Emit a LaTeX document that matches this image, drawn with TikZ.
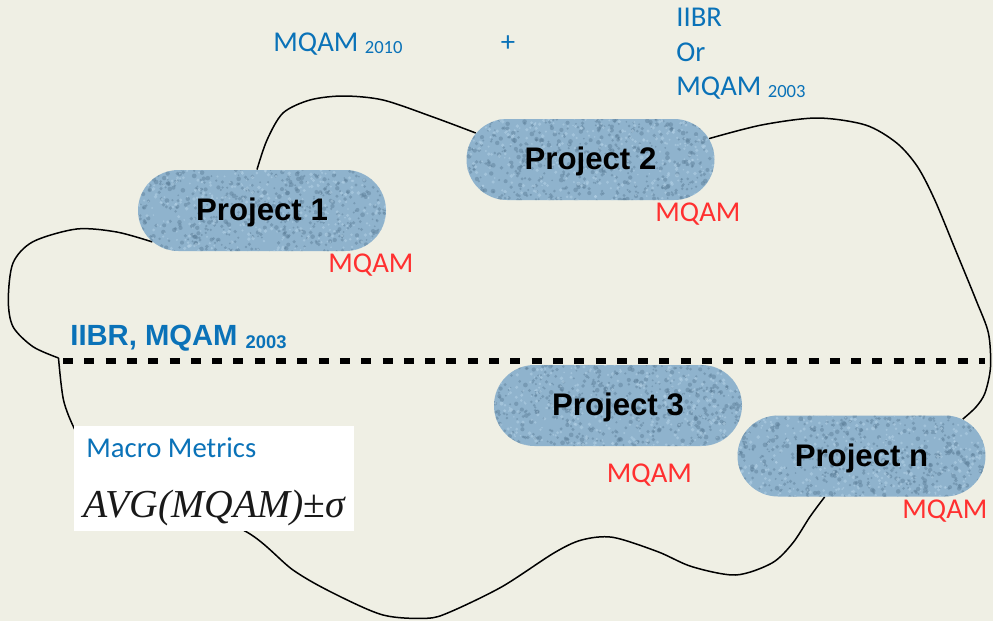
\documentclass[tikz,border=0pt]{standalone}
\usepackage{fontspec}
\setmainfont{Carlito}
\newfontfamily\arialf{Liberation Sans}
\newfontfamily\timesf{Liberation Serif}
\usetikzlibrary{shapes.misc}
\definecolor{bgc}{HTML}{EFEFE4}
\definecolor{mblue}{HTML}{0A72B8}
\definecolor{mred}{HTML}{FF3030}
\definecolor{capfill}{HTML}{8FB3CD}
\definecolor{capdark}{HTML}{5A7C96}
\definecolor{caplight}{HTML}{B3D1E6}
\pgfdeclarelayer{bgl}
\pgfdeclarelayer{back}
\pgfsetlayers{bgl,back,main}
\tikzset{
  speckles/.style={path picture={
    \foreach \k in {1,...,560}{
      \fill[capdark, opacity=0.45] ([shift={({rand*64pt},{rand*22pt})}]path picture bounding box.center) circle[radius={0.45pt+0.75pt*rnd}];
    }
    \foreach \k in {1,...,380}{
      \fill[caplight, opacity=0.55] ([shift={({rand*64pt},{rand*22pt})}]path picture bounding box.center) circle[radius={0.4pt+0.6pt*rnd}];
    }
  }},
  proj/.style={rounded rectangle, minimum width=124pt, minimum height=40.5pt, inner sep=0pt,
    fill=capfill, speckles, font=\arialf\bfseries\fontsize{15.6}{18}\selectfont,
    text height=13pt, text depth=3pt},
  lbl/.style={inner sep=0pt, anchor=base west},
  bluelbl/.style={lbl, text=mblue, font=\fontsize{14.35}{17}\selectfont},
  redlbl/.style={lbl, text=mred, font=\fontsize{14.35}{17}\selectfont},
  blobline/.style={draw=black, line width=0.75pt},
  dashline/.style={draw=black, line width=2.6pt, dash pattern=on 5pt off 5.65pt},
}
\newcommand{\smallsub}[1]{{\fontsize{9.3}{11}\selectfont\raisebox{-1pt}{#1}}}
\begin{document}
\begin{tikzpicture}[x=0.5pt, y=-0.5pt]
\pgfmathsetseed{11}
\useasboundingbox (0,0) rectangle (993,621);
\begin{pgfonlayer}{bgl}
\fill[bgc] (0,0) rectangle (993,621);
\end{pgfonlayer}

% capsules
\node[proj] (p1) at (262,210.5) {Project 1};
\node[proj] (p2) at (590.5,159.5) {Project 2};
\node[proj] (p3) at (618,405.5) {Project 3};
\node[proj] (pn) at (861.5,456) {Project n};

% white box
\node[fill=white, inner sep=0pt, minimum width=140pt, minimum height=52.5pt, anchor=north west] (mbox) at (74,426) {};

% outline curve
\coordinate (corner) at (58.5,358);
\coordinate (dl) at (63,361);
\coordinate (dr) at (985,361);
\begin{pgfonlayer}{back}
\draw[blobline] plot[smooth] coordinates {(p1.97) (267,140) (283,113) (310,100) (343,96) (383,100) (433,117) (p2.167.5)};
\draw[blobline] plot[smooth] coordinates {(p2.10.6) (761.6,125) (817,118) (865.5,125) (896.7,143) (917.5,166.7) (934.8,200) (955.5,250) (976,300) (988.4,333) (990.5,367) (985,393) (976,407) (pn.20.2)};
\draw[blobline] plot[smooth] coordinates {(pn.228.4) (810,516.7) (792.8,543) (772,563) (735.7,575) (692,566.7) (657.8,551.7) (612.7,537.3) (581.6,540) (553.9,553) (502,586.7) (450,612) (426.7,618.3) (383,615) (333,593) (293,570) (243,530) (150,500) (95,465) (75,430) (63.5,400) (corner)};
\draw[blobline] plot[smooth] coordinates {(corner) (33,346.7) (13,326.7) (8.3,300) (13,263) (33,241.7) (76.7,229) (116.7,232) (p1.196)};
\end{pgfonlayer}

% dashed separator
\draw[dashline] (dl) -- (dr);

% blue labels
\node[bluelbl] (m2010) at (273,52) {MQAM \smallsub{2010}};
\node[inner sep=0pt, text=mblue, font=\fontsize{14.35}{17}\selectfont] (plus) at (508,44) {+};
\node[bluelbl] (iibr) at (676,26.7) {IIBR};
\node[bluelbl] (or) at (676,61.7) {Or};
\node[bluelbl] (m2003) at (676,96) {MQAM \smallsub{2003}};
\node[lbl, text=mblue, font=\arialf\bfseries\fontsize{14.6}{17}\selectfont] (iibrb) at (70,345.7) {IIBR, MQAM {\fontsize{9.2}{11}\selectfont\raisebox{-1.5pt}{2003}}};

% red labels
\node[redlbl] (r1) at (328,272) {MQAM};
\node[redlbl] (r2) at (655,221.7) {MQAM};
\node[redlbl] (r3) at (606.5,482) {MQAM};
\node[redlbl] (rn) at (902,518) {MQAM};

% macro metrics
\node[bluelbl] (macro) at (86,457) {Macro Metrics};
\node[lbl, text=black!90, font=\timesf\fontsize{19.8}{22}\selectfont] (avg) at (83,517) {\textit{AVG(MQAM)}±\textit{σ}};
\end{tikzpicture}
\end{document}
